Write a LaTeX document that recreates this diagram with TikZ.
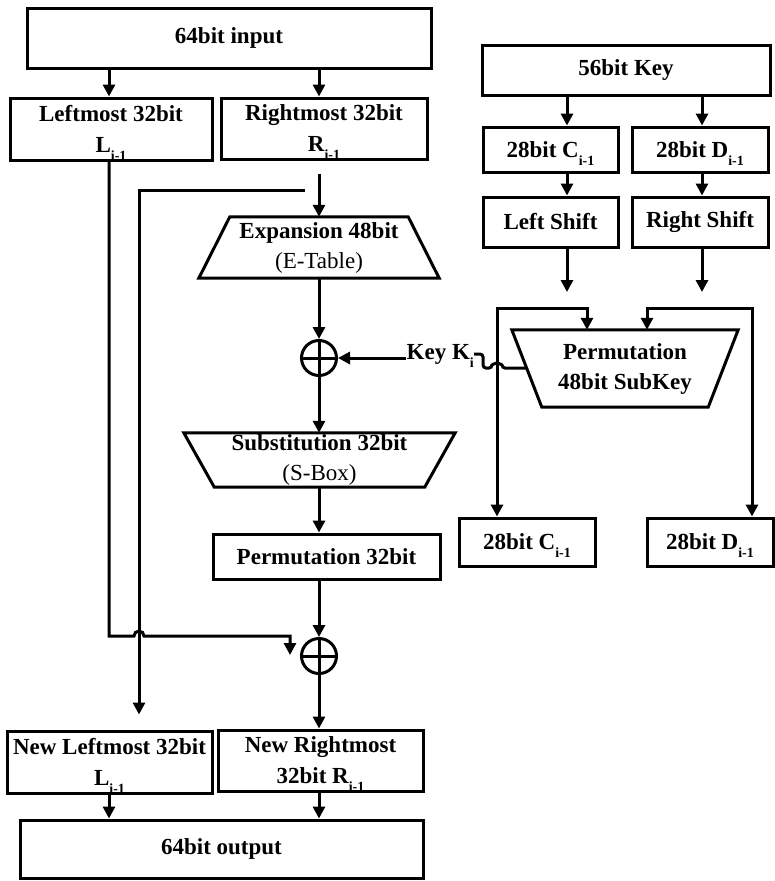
\documentclass[tikz,border=0pt]{standalone}
\usepackage{fontspec}
\setmainfont{Liberation Serif}
\usetikzlibrary{arrows.meta}
\newcommand{\sbs}[1]{\raisebox{-8pt}[0pt][0pt]{\fontsize{14}{14}\selectfont #1}}
\tikzset{
  ln/.style={line width=3pt},
  arr/.style={ln, -{Triangle[length=12pt,width=12pt]}},
  arrtwo/.style={ln, {Triangle[length=12pt,width=12pt]}-{Triangle[length=12pt,width=12pt]}},
  box/.style={draw, line width=3pt, inner sep=0pt, align=center,
    font=\fontsize{23}{31}\selectfont\bfseries},
  tl/.style={inner sep=0pt, align=center, font=\fontsize{23}{30}\selectfont},
  xor/.style={circle, draw, line width=3pt, minimum size=35pt, inner sep=0pt,
    path picture={\draw[line width=3pt]
      (path picture bounding box.north) -- (path picture bounding box.south)
      (path picture bounding box.west) -- (path picture bounding box.east);}}
}
\begin{document}
\begin{tikzpicture}[x=1pt,y=-1pt]
\useasboundingbox (0,0) rectangle (774,881);
% column coordinates
\coordinate (cL) at (109,0);
\coordinate (cR) at (319,0);
\coordinate (cF) at (139,0);
\coordinate (cKL) at (567,0);
\coordinate (cKR) at (702,0);
\coordinate (cPL) at (587,0);
\coordinate (cPR) at (647,0);

% left part
\node[box, minimum width=404pt, minimum height=60pt] (in) at (229,38) {64bit input};
\node[box, minimum width=202pt, minimum height=62pt] (L) at (111,129) {Leftmost 32bit\\L\sbs{i-1}};
\node[box, minimum width=206pt, minimum height=61pt] (R) at (324,128.5) {Rightmost 32bit\\R\sbs{i-1}};

\node[tl, minimum width=178pt, minimum height=61pt] (exp) at (319,247.5) {\textbf{Expansion 48bit}\\(E-Table)};
\draw[ln] ([xshift=-31pt]exp.south west) -- (exp.north west) -- (exp.north east) -- ([xshift=31pt]exp.south east) -- cycle;

\node[xor] (x1) at (319,358) {};

\node[tl, minimum width=210pt, minimum height=54pt] (sub) at (319.5,460) {\textbf{Substitution 32bit}\\(S-Box)};
\draw[ln] ([xshift=-30.5pt]sub.north west) -- ([xshift=30.5pt]sub.north east) -- (sub.south east) -- (sub.south west) -- cycle;

\node[box, minimum width=227pt, minimum height=45pt] (p32) at (326.5,556.5) {Permutation 32bit};
\node[xor] (x2) at (319,656) {};

\node[box, minimum width=205pt, minimum height=62pt] (NL) at (109.5,762) {New Leftmost 32bit\\L\sbs{i-1}};
\node[box, minimum width=205pt, minimum height=61pt] (NR) at (320.5,760.5) {New Rightmost\\32bit R\sbs{i-1}};
\node[box, minimum width=403pt, minimum height=58pt] (out) at (221.5,849) {64bit output};

% key part
\node[box, minimum width=288pt, minimum height=50pt] (key) at (626,70) {56bit Key};
\node[box, minimum width=135pt, minimum height=45pt] (C) at (550.5,149.5) {28bit C\sbs{i-1}};
\node[box, minimum width=136pt, minimum height=45pt] (D) at (700,149.5) {28bit D\sbs{i-1}};
\node[box, minimum width=135pt, minimum height=50pt] (LS) at (550.5,222) {Left Shift};
\node[box, minimum width=136pt, minimum height=50pt] (RS) at (700,222) {Right Shift};

\node[tl, minimum width=166pt, minimum height=77pt] (pk) at (625,368.5) {\textbf{Permutation}\\\textbf{48bit SubKey}};
\draw[ln] ([xshift=-30pt]pk.north west) -- ([xshift=30pt]pk.north east) -- (pk.south east) -- (pk.south west) -- cycle;

\node[box, minimum width=136pt, minimum height=48pt] (C2) at (527,542) {28bit C\sbs{i-1}};
\node[box, minimum width=126pt, minimum height=48pt] (D2) at (710,542) {28bit D\sbs{i-1}};

\node[tl, anchor=east, font=\fontsize{23}{30}\selectfont\bfseries] (kk) at (474,354) {Key K\sbs{i}};

% free-end / bend coordinates
\coordinate (fb) at (305,190);
\coordinate (lse) at (567,292);
\coordinate (rse) at (702,292);
\coordinate (lc) at (109,636);
\coordinate (hp) at (134,636);
\coordinate (xc) at (290,636);
\coordinate (xe) at (290,655);
\coordinate (sq1) at (483,354);
\coordinate (sq2) at (483,368);
\coordinate (hk) at (492,368);
\coordinate (pke) at (527,368);
\coordinate (fl) at (497,308);
\coordinate (fr) at (752,308);

% connectors: data path
\draw[arr] (in.south -| cL) -- (L.north -| cL);
\draw[arr] (in.south -| cR) -- (R.north -| cR);
\draw[arr, shorten <=13pt] (R.south -| cR) -- (exp.north);
\draw[arr, shorten >=15pt] (fb) -| (NL.north -| cF);
\draw[arr] (exp.south) -- (x1.north);
\draw[arr] (x1.south) -- (sub.north -| x1);
\draw[arr] (sub.south -| x1) -- (p32.north -| x1);
\draw[arr] (p32.south -| x1) -- (x2.north);
\draw[arr] (x2.south) -- (NR.north -| x2);
\draw[arr] (L.south -| cL) -- (lc) -- (hp) arc[start angle=180, end angle=0, radius=5pt] -- (xc) -- (xe);
\draw[arr] (NL.south -| cL) -- (out.north -| cL);
\draw[arr] (NR.south -| cR) -- (out.north -| cR);

% connectors: key path
\draw[arr] (key.south -| cKL) -- (C.north -| cKL);
\draw[arr] (key.south -| cKR) -- (D.north -| cKR);
\draw[arr] (C.south -| cKL) -- (LS.north -| cKL);
\draw[arr] (D.south -| cKR) -- (RS.north -| cKR);
\draw[arr] (LS.south -| cKL) -- (lse);
\draw[arr] (RS.south -| cKR) -- (rse);
\draw[arrtwo] (C2.north -| fl) -- (fl) -| (pk.north -| cPL);
\draw[arrtwo] (D2.north -| fr) -- (fr) -| (pk.north -| cPR);
\draw[arr] (kk.west |- x1) -- (x1.east);
\draw[ln, rounded corners=3pt] (kk.east) -- (sq1) -- (sq2) -- (hk) arc[start angle=180, end angle=0, radius=5pt] -- (pke);
\end{tikzpicture}
\end{document}
